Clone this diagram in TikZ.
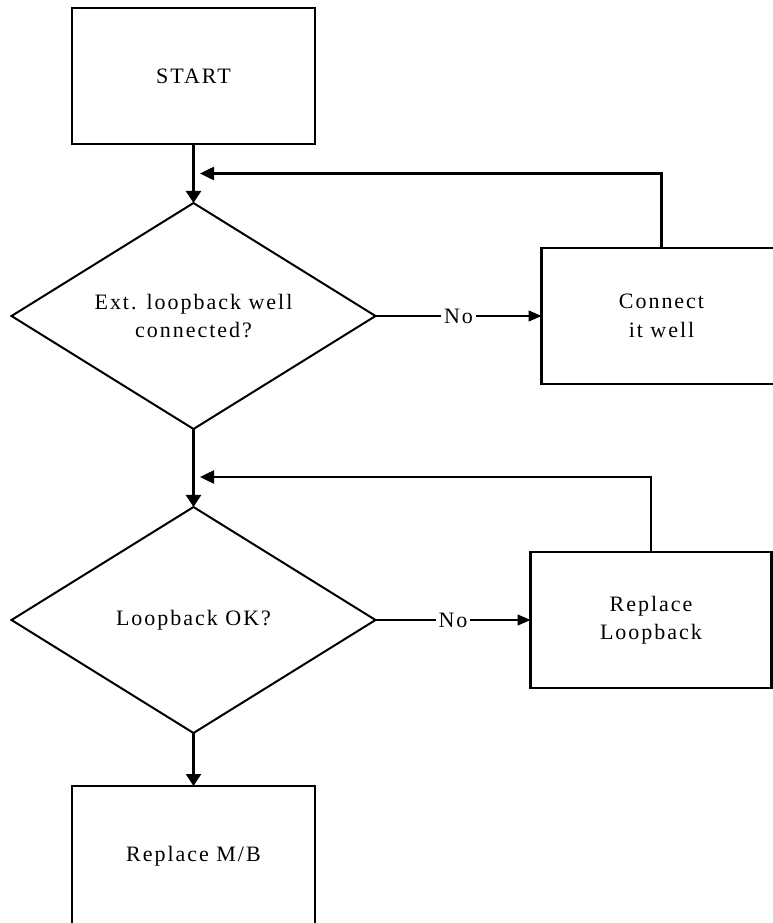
\documentclass[tikz,border=0pt]{standalone}
\usepackage{fontspec}
\setmainfont[LetterSpace=9]{Liberation Serif}
\usepackage{tikz}
\usetikzlibrary{positioning,shapes.geometric,arrows.meta,calc}
\tikzset{
  every node/.style={font=\fontsize{22}{28.5}\selectfont},
  procbox/.style={draw, rectangle, line width=2.5pt, outer sep=0pt, align=center, minimum width=243pt, minimum height=136pt},
  decision/.style={draw, diamond, line width=2pt, aspect=1.6, inner sep=0pt, outer sep=0pt, align=center, minimum width=364pt, minimum height=226pt},
  flow/.style={-{Triangle[length=12pt,width=15pt]}, line width=2.5pt},
  back/.style={-{Triangle[length=14pt,width=13pt]}, line width=2.5pt},
  nolink/.style={-{Triangle[length=13pt,width=11pt]}, line width=1.3pt},
  lbl/.style={fill=white, inner sep=3pt},
}

\begin{document}
\begin{tikzpicture}
  \useasboundingbox (0,0) rectangle (773pt,-923pt);
  \clip (0,0) rectangle (773pt,-923pt);

  \node[procbox] (start) at (193.5pt,-76pt) {START};
  \node[decision, below=59pt of start] (q1) {Ext. loopback well\\connected?};
  \node[procbox, right=166pt of q1, minimum width=240pt] (fix1) {Connect\\it well};
  \node[decision, below=78pt of q1] (q2) {Loopback OK?};
  \node[procbox, right=155pt of q2, minimum width=241pt] (fix2) {Replace\\Loopback};
  \node[procbox, below=53pt of q2, minimum height=140pt] (mb) {Replace M/B};

  \draw[flow] (start) -- (q1);
  \draw[flow] (q1) -- (q2);
  \draw[flow] (q2) -- (mb);
  \draw[nolink] (q1) -- node[lbl]{No} (fix1);
  \draw[nolink] (q2) -- node[lbl]{No} (fix2);

  % back to the top of each test
  \coordinate (j1) at ($(start.south)!0.5!(q1.north)+(6.5pt,0)$);
  \draw[back] (fix1.north) |- (j1);
  \coordinate (j2) at ($(q2.north)+(6.5pt,30pt)$);
  \draw[back] (fix2.north) |- (j2);
\end{tikzpicture}
\end{document}
